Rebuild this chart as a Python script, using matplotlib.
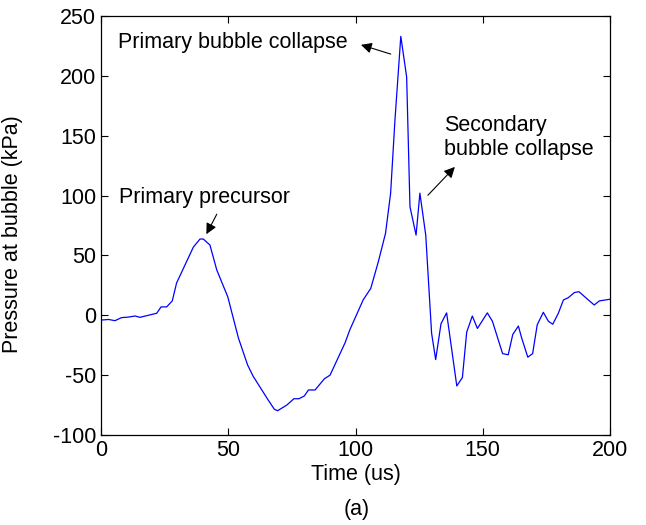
import matplotlib
matplotlib.use("Agg")
import matplotlib.pyplot as plt

time_us = [0, 3, 5.5, 8, 10.7, 13.4, 15.3, 18.6, 21.9, 23.6, 25.8, 28, 29.7, 32.7,
           36.3, 38.9, 40.2, 42.8, 45.5, 49.8, 54, 57.6, 59.8, 65.7, 68.1, 69.4,
           73, 75.8, 77.8, 79.9, 81.5, 84.1, 87.8, 90, 95.9, 97.8, 103, 106, 109,
           111.8, 113.8, 115.5, 117.8, 120.1, 121.4, 123.8, 125.3, 127.6, 129.9,
           131.5, 133.6, 135.8, 139.8, 142, 143.7, 145.9, 147.9, 151.8, 153.8,
           157.8, 160, 161.8, 164, 165.3, 167.7, 169.6, 171.4, 173.8, 175.8,
           177.5, 179.7, 181.7, 183.6, 186, 187.8, 191.5, 193.8, 195.8, 200]
pressure = [-4, -3.5, -4.5, -2, -1.5, -0.6, -1.7, 0, 1.7, 7, 7, 12, 27, 40.6,
            57, 63.7, 63.7, 58.7, 37.8, 15.5, -19, -41.5, -51, -70.8, -78.5, -79.7,
            -75, -69.7, -69.7, -67.4, -62.4, -62.4, -53, -50, -23, -12, 12.8, 22.5, 45,
            68.5, 102, 163, 233, 199, 90.7, 67, 102, 67,
            -15, -37, -7, 2, -59, -52, -14, -0.6, -11, 2, -5,
            -32, -33, -16, -9, -19, -35, -32, -8, 2.5, -5,
            -7.5, 1.7, 12.8, 14.7, 19, 19.7, 12.8, 8.6, 12, 13.4]

xticks = [0, 50, 100, 150, 200]
yticks = [-100, -50, 0, 50, 100, 150, 200, 250]

plt.rcParams['font.family'] = ['Liberation Sans', 'DejaVu Sans']
plt.rcParams['axes.unicode_minus'] = False
FS = 15.5

fig = plt.figure(figsize=(6.46, 5.25), dpi=100)
ax = fig.add_axes([101/646, 90/525, 509/646, 419/525])
ax.plot(time_us, pressure, color='#0000ff', lw=0.9)
ax.set_xlim(0, 200)
ax.set_ylim(-100, 250)
ax.set_xticks(xticks)
ax.set_yticks(yticks)
ax.tick_params(direction='in', top=True, right=True, labelsize=FS, length=5, width=0.8)
for s in ax.spines.values():
    s.set_linewidth(0.9)
ax.set_xlabel('Time (us)', fontsize=FS, labelpad=2)

arrowprops = dict(arrowstyle='-|>', color='black', lw=0.8, mutation_scale=16)
ax.annotate('', xy=(40.9, 65.7), xytext=(46, 86.5), arrowprops=arrowprops)
ax.text(7, 98, 'Primary precursor', fontsize=FS, va='center', ha='left')
ax.annotate('', xy=(101.1, 226.6), xytext=(114.9, 217.5), arrowprops=arrowprops)
ax.text(6.7, 227.5, 'Primary bubble collapse', fontsize=FS, va='center', ha='left')
ax.annotate('', xy=(139.8, 125.6), xytext=(127.7, 98.6), arrowprops=arrowprops)
ax.text(134.9, 148.5, 'Secondary\nbubble collapse', fontsize=FS, va='center', ha='left',
        linespacing=1.15)

fig.text(357/646, 1 - 509/525, '(a)', fontsize=FS, ha='center', va='center')

fig.text(23/646, 1 - 234/525, 'Pressure at bubble (kPa)', fontsize=FS, rotation=90,
         ha='right', va='center')

fig.savefig('out.png', dpi=100)
